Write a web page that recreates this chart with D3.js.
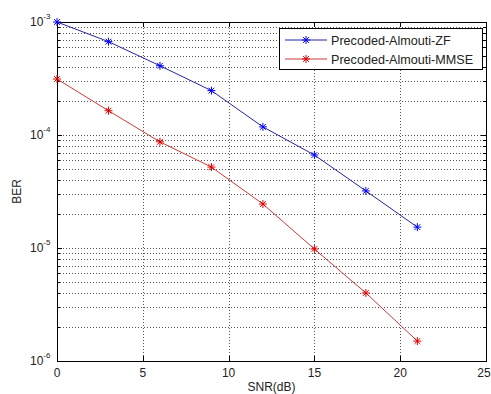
<!DOCTYPE html>
<html>
<head>
<meta charset="utf-8">
<script src="https://cdn.jsdelivr.net/npm/d3@7"></script>
<style>
  body { margin: 0; background: #fff; }
  svg { display: block; font-family: 'Liberation Sans', Arial, sans-serif; }
</style>
</head>
<body>
<div id="chart"></div>
<script>
const snr = [0, 3, 6, 9, 12, 15, 18, 21];
const berZF = [1.0e-3, 6.7e-4, 4.1e-4, 2.47e-4, 1.18e-4, 6.65e-5, 3.2e-5, 1.53e-5];
const berMMSE = [3.13e-4, 1.64e-4, 8.7e-5, 5.2e-5, 2.45e-5, 9.8e-6, 4.0e-6, 1.5e-6];
const xTicks = [0, 5, 10, 15, 20, 25];
const yExponents = [-3, -4, -5, -6];
const seriesNames = ['Precoded-Almouti-ZF', 'Precoded-Almouti-MMSE'];

const width = 491;
const height = 394;
const margin = { top: 22, right: 5, bottom: 33, left: 57 }; // plot box 57..486, 22..361

const svg = d3.select('#chart')
  .append('svg')
  .attr('width', width)
  .attr('height', height);

const xScale = d3.scaleLinear()
  .domain([0, 25])
  .range([margin.left, width - margin.right]);

const yScale = d3.scaleLog()
  .domain([1e-6, 1e-3])
  .range([height - margin.bottom, margin.top]);

// minor log values 2..9 in each decade
const minorVals = [];
[-6, -5, -4].forEach((e) => {
  for (let k = 2; k <= 9; k += 1) minorVals.push(k * 10 ** e);
});
const majorVals = yExponents.map((e) => 10 ** e);

const grid = svg.append('g')
  .attr('stroke', '#555')
  .attr('stroke-width', 1)
  .attr('stroke-dasharray', '1,2')
  .attr('shape-rendering', 'crispEdges');

grid.selectAll('.hgrid')
  .data(minorVals.concat(majorVals.slice(1, 3)))
  .join('line')
  .attr('class', 'hgrid')
  .attr('x1', margin.left)
  .attr('x2', width - margin.right)
  .attr('y1', (d) => Math.round(yScale(d)) + 0.5)
  .attr('y2', (d) => Math.round(yScale(d)) + 0.5);

grid.selectAll('.vgrid')
  .data(xTicks.slice(1, -1))
  .join('line')
  .attr('class', 'vgrid')
  .attr('y1', margin.top)
  .attr('y2', height - margin.bottom)
  .attr('x1', (d) => Math.round(xScale(d)) + 0.5)
  .attr('x2', (d) => Math.round(xScale(d)) + 0.5);

// axes box with inward ticks
const x0 = margin.left;
const x1 = width - margin.right;
const y0 = margin.top;
const y1 = height - margin.bottom;

const ticks = svg.append('g')
  .attr('stroke', '#000')
  .attr('stroke-width', 1)
  .attr('shape-rendering', 'crispEdges');

xTicks.forEach((t) => {
  const x = Math.round(xScale(t)) + 0.5;
  ticks.append('line').attr('x1', x).attr('x2', x).attr('y1', y1).attr('y2', y1 - 5);
  ticks.append('line').attr('x1', x).attr('x2', x).attr('y1', y0).attr('y2', y0 + 5);
});
majorVals.forEach((v) => {
  const y = Math.round(yScale(v)) + 0.5;
  ticks.append('line').attr('x1', x0).attr('x2', x0 + 5).attr('y1', y).attr('y2', y);
  ticks.append('line').attr('x1', x1).attr('x2', x1 - 5).attr('y1', y).attr('y2', y);
});
minorVals.forEach((v) => {
  const y = Math.round(yScale(v)) + 0.5;
  ticks.append('line').attr('x1', x0).attr('x2', x0 + 3).attr('y1', y).attr('y2', y);
  ticks.append('line').attr('x1', x1).attr('x2', x1 - 3).attr('y1', y).attr('y2', y);
});

svg.append('rect')
  .attr('x', x0 + 0.5)
  .attr('y', y0 + 0.5)
  .attr('width', x1 - x0)
  .attr('height', y1 - y0)
  .attr('fill', 'none')
  .attr('stroke', '#000')
  .attr('stroke-width', 1)
  .attr('shape-rendering', 'crispEdges');

// tick labels
svg.append('g')
  .selectAll('text')
  .data(xTicks)
  .join('text')
  .attr('x', (d) => (d === 25 ? xScale(d) - 2 : xScale(d)))
  .attr('y', y1 + 16)
  .attr('text-anchor', 'middle')
  .attr('font-size', 12)
  .attr('fill', '#222')
  .text((d) => d);

const yLabels = svg.append('g')
  .selectAll('text')
  .data(yExponents)
  .join('text')
  .attr('x', 30)
  .attr('y', (d) => yScale(10 ** d) + 4)
  .attr('font-size', 12)
  .attr('fill', '#222');
yLabels.append('tspan').text('10');
yLabels.append('tspan')
  .attr('dy', -7)
  .attr('font-size', 8)
  .text((d) => `${d}`);

// axis titles
svg.append('text')
  .attr('x', (x0 + x1) / 2)
  .attr('y', height - 3)
  .attr('text-anchor', 'middle')
  .attr('font-size', 12)
  .attr('fill', '#222')
  .text('SNR(dB)');

svg.append('text')
  .attr('transform', `translate(21, ${(y0 + y1) / 2}) rotate(-90)`)
  .attr('text-anchor', 'middle')
  .attr('font-size', 12)
  .attr('fill', '#222')
  .text('BER');

// series
const series = [
  { name: seriesNames[0], values: berZF, line: '#2424a0', marker: '#0000ff' },
  { name: seriesNames[1], values: berMMSE, line: '#c83c3c', marker: '#e00000' },
];

const lineGen = d3.line()
  .x((d) => xScale(d[0]))
  .y((d) => yScale(d[1]));

const starPath = (cx, cy, r) => {
  const d = r * 0.72;
  return `M${cx - r},${cy}L${cx + r},${cy}M${cx},${cy - r}L${cx},${cy + r}`
    + `M${cx - d},${cy - d}L${cx + d},${cy + d}M${cx - d},${cy + d}L${cx + d},${cy - d}`;
};

series.forEach((s) => {
  const pts = snr.map((x, i) => [x, s.values[i]]);
  svg.append('path')
    .datum(pts)
    .attr('d', lineGen)
    .attr('fill', 'none')
    .attr('stroke', s.line)
    .attr('stroke-width', 1);
  svg.append('g')
    .selectAll('path')
    .data(pts)
    .join('path')
    .attr('d', (d) => starPath(xScale(d[0]), yScale(d[1]), 4))
    .attr('stroke', s.marker)
    .attr('stroke-width', 1)
    .attr('fill', 'none');
});

// legend
const legend = svg.append('g');
legend.append('rect')
  .attr('x', 279.5)
  .attr('y', 28.5)
  .attr('width', 203)
  .attr('height', 41)
  .attr('fill', '#fff')
  .attr('stroke', '#000')
  .attr('stroke-width', 1)
  .attr('shape-rendering', 'crispEdges');

series.forEach((s, i) => {
  const ly = 40 + i * 19;
  legend.append('line')
    .attr('x1', 285)
    .attr('x2', 327)
    .attr('y1', ly)
    .attr('y2', ly)
    .attr('stroke', s.line)
    .attr('stroke-width', 1);
  legend.append('path')
    .attr('d', starPath(306, ly, 4))
    .attr('stroke', s.marker)
    .attr('stroke-width', 1)
    .attr('fill', 'none');
  legend.append('text')
    .attr('x', 331)
    .attr('y', ly + 5)
    .attr('font-size', 12.6)
    .attr('fill', '#222')
    .text(s.name);
});
</script>
</body>
</html>
